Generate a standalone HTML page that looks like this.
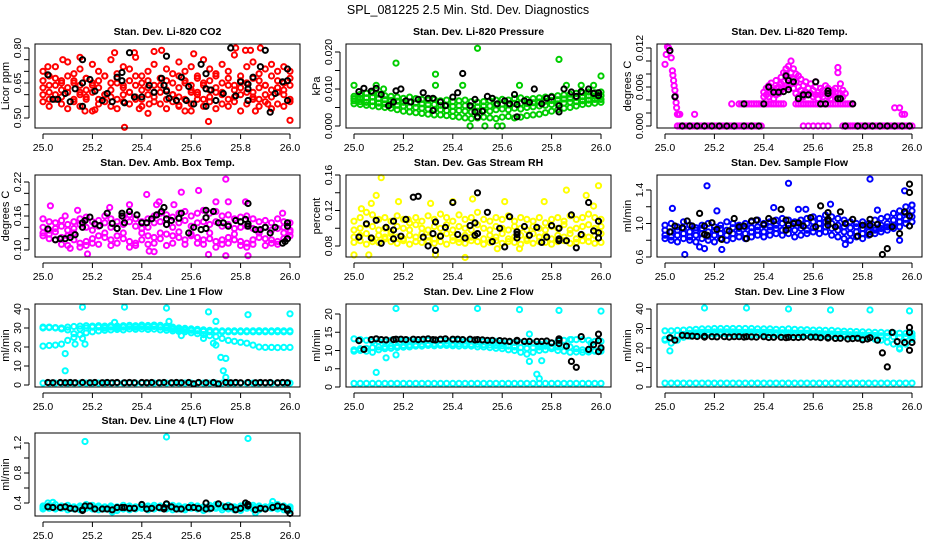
<!DOCTYPE html>
<html><head><meta charset="utf-8"><style>
html,body{margin:0;padding:0;background:#fff;}
svg{display:block;font-family:"Liberation Sans",Arial,sans-serif;}
</style></head><body>
<svg id="chart" width="936" height="540" viewBox="0 0 936 540" xmlns="http://www.w3.org/2000/svg">
<rect x="0" y="0" width="936" height="540" fill="#fff"/>
<text x="468" y="14" font-size="12.5" text-anchor="middle">SPL_081225  2.5 Min. Std. Dev. Diagnostics</text>
</svg>
<script>
const xGrid = [25.000,25.025,25.050,25.075,25.100,25.125,25.150,25.175,25.200,25.225,25.250,25.275,25.300,25.325,25.350,25.375,25.400,25.425,25.450,25.475,25.500,25.525,25.550,25.575,25.600,25.625,25.650,25.675,25.700,25.725,25.750,25.775,25.800,25.825,25.850,25.875,25.900,25.925,25.950,25.975,26.000];
const xTicks = [25.0,25.2,25.4,25.6,25.8,26.0];
const xTickLabels = ["25.0","25.2","25.4","25.6","25.8","26.0"];

// CO2
const co2A = [0.70,0.68,0.72,0.66,0.74,0.69,0.71,0.67,0.73,0.70,0.68,0.75,0.69,0.72,0.71,0.76,0.68,0.70,0.73,0.67,0.71,0.69,0.74,0.70,0.72,0.68,0.75,0.71,0.69,0.73,0.70,0.77,0.68,0.72,0.74,0.69,0.71,0.73,0.70,0.72,0.70];
const co2B = [0.63,0.61,0.64,0.62,0.63,0.65,0.61,0.62,0.64,0.63,0.60,0.62,0.65,0.63,0.61,0.64,0.62,0.63,0.61,0.64,0.62,0.60,0.63,0.65,0.62,0.61,0.64,0.62,0.63,0.61,0.64,0.62,0.63,0.65,0.61,0.63,0.64,0.62,0.63,0.62,0.64];
const co2C = [0.57,0.55,0.58,0.56,0.54,0.57,0.55,0.58,0.53,0.56,0.57,0.55,0.54,0.57,0.56,0.58,0.55,0.52,0.57,0.56,0.54,0.57,0.55,0.53,0.56,0.58,0.55,0.57,0.54,0.56,0.55,0.57,0.53,0.56,0.58,0.55,0.57,0.54,0.56,0.55,0.57];
const co2D = [0.66,0.64,0.67,0.65,0.68,0.66,0.64,0.67,0.65,0.66,0.68,0.65,0.67,0.64,0.66,0.68,0.65,0.66,0.64,0.67,0.66,0.65,0.68,0.66,0.64,0.67,0.65,0.66,0.68,0.65,0.67,0.64,0.66,0.65,0.67,0.66,0.64,0.68,0.66,0.65,0.67];
const co2E = [0.60,0.58,0.60,0.59,0.61,0.58,0.60,0.59,0.61,0.58,0.60,0.59,0.58,0.60,0.61,0.59,0.58,0.60,0.59,0.61,0.58,0.60,0.59,0.58,0.61,0.60,0.58,0.59,0.61,0.60,0.58,0.59,0.60,0.61,0.59,0.58,0.60,0.59,0.61,0.60,0.58];
const co2Out = [[25.17,0.53],[25.21,0.535],[25.33,0.46],[25.39,0.54],[25.43,0.56],[25.55,0.555],[25.6,0.53],[25.67,0.485],[25.86,0.53],[25.91,0.56],[26.0,0.49],[25.29,0.78],[25.37,0.78],[25.45,0.785],[25.48,0.79],[25.61,0.775],[25.78,0.80],[25.82,0.79],[25.84,0.79],[25.88,0.80],[25.15,0.76],[25.08,0.75],[25.02,0.72]];
const co2Black = [[25.02,0.685],[25.04,0.58],[25.06,0.58],[25.09,0.605],[25.11,0.57],[25.13,0.625],[25.16,0.65],[25.16,0.75],[25.16,0.55],[25.19,0.665],[25.21,0.615],[25.24,0.575],[25.26,0.605],[25.28,0.57],[25.30,0.675],[25.32,0.695],[25.32,0.66],[25.33,0.565],[25.35,0.78],[25.37,0.59],[25.40,0.59],[25.43,0.64],[25.45,0.61],[25.48,0.67],[25.49,0.64],[25.50,0.615],[25.50,0.765],[25.51,0.585],[25.54,0.575],[25.56,0.675],[25.58,0.575],[25.59,0.635],[25.61,0.56],[25.64,0.73],[25.66,0.55],[25.66,0.625],[25.66,0.69],[25.68,0.62],[25.70,0.575],[25.73,0.605],[25.76,0.80],[25.78,0.595],[25.80,0.655],[25.83,0.575],[25.83,0.625],[25.83,0.645],[25.85,0.675],[25.88,0.72],[25.90,0.79],[25.92,0.525],[25.94,0.605],[25.97,0.655],[25.99,0.71],[25.99,0.66],[25.99,0.575]];

// Pressure
const prA = [0.0080,0.0085,0.0088,0.0090,0.0086,0.0082,0.0080,0.0078,0.0075,0.0078,0.0074,0.0072,0.0070,0.0072,0.0068,0.0070,0.0066,0.0068,0.0070,0.0066,0.0064,0.0066,0.0068,0.0070,0.0072,0.0070,0.0074,0.0076,0.0072,0.0074,0.0076,0.0078,0.0080,0.0082,0.0084,0.0086,0.0088,0.0090,0.0092,0.0090,0.0092];
const prB = [0.0068,0.0066,0.0064,0.0066,0.0062,0.0060,0.0058,0.0056,0.0054,0.0052,0.0050,0.0048,0.0046,0.0045,0.0044,0.0042,0.0040,0.0042,0.0040,0.0038,0.0040,0.0042,0.0040,0.0044,0.0046,0.0044,0.0048,0.0046,0.0050,0.0052,0.0054,0.0056,0.0058,0.0060,0.0062,0.0064,0.0066,0.0068,0.0070,0.0072,0.0072];
const prC = [0.0060,0.0058,0.0056,0.0054,0.0052,0.0050,0.0048,0.0044,0.0040,0.0038,0.0036,0.0034,0.0032,0.0030,0.0030,0.0028,0.0026,0.0024,0.0022,0.0020,0.0022,0.0024,0.0022,0.0020,0.0024,0.0026,0.0022,0.0024,0.0028,0.0030,0.0032,0.0036,0.0040,0.0044,0.0048,0.0050,0.0054,0.0058,0.0060,0.0062,0.0064];
const prD = [0.0074,0.0075,0.0076,0.0078,0.0074,0.0071,0.0069,0.0067,0.0064,0.0065,0.0062,0.0060,0.0058,0.0058,0.0056,0.0056,0.0053,0.0055,0.0055,0.0052,0.0052,0.0054,0.0054,0.0057,0.0059,0.0057,0.0061,0.0061,0.0061,0.0063,0.0065,0.0067,0.0069,0.0071,0.0073,0.0075,0.0077,0.0079,0.0081,0.0081,0.0082];
const prOut = [[25.0,0.011],[25.09,0.011],[25.17,0.017],[25.33,0.014],[25.33,0.011],[25.44,0.011],[25.5,0.021],[25.47,0.0],[25.53,0.0],[25.58,0.0],[25.6,0.0],[25.67,0.011],[25.83,0.018],[25.86,0.011],[25.97,0.011],[26.0,0.0135],[25.12,0.010],[25.92,0.011]];
const prBlack = [[25.02,0.0093],[25.04,0.0102],[25.07,0.0094],[25.09,0.0102],[25.11,0.0085],[25.14,0.0055],[25.16,0.0065],[25.17,0.0095],[25.19,0.0100],[25.21,0.0068],[25.23,0.0065],[25.26,0.0072],[25.28,0.0090],[25.30,0.0075],[25.32,0.0075],[25.32,0.0042],[25.35,0.0065],[25.37,0.0055],[25.40,0.0078],[25.42,0.0090],[25.44,0.0142],[25.47,0.0055],[25.49,0.0072],[25.49,0.0038],[25.50,0.0025],[25.52,0.0040],[25.54,0.0080],[25.56,0.0075],[25.58,0.0060],[25.61,0.0068],[25.63,0.0060],[25.65,0.0085],[25.66,0.0058],[25.66,0.0025],[25.69,0.0068],[25.71,0.0064],[25.73,0.0100],[25.76,0.0060],[25.78,0.0075],[25.80,0.0078],[25.83,0.0055],[25.83,0.0038],[25.85,0.0100],[25.88,0.0092],[25.90,0.0080],[25.92,0.0093],[25.95,0.0100],[25.97,0.0088],[25.99,0.0090],[25.99,0.0082]];

// Li-820 Temp
const tpSpike = [[25.00,0.0095],[25.005,0.0110],[25.01,0.0122],[25.015,0.0120],[25.02,0.0116],[25.025,0.0105],[25.03,0.0085],[25.032,0.0078],[25.035,0.0070],[25.037,0.0062],[25.04,0.0055],[25.042,0.0046],[25.045,0.0036],[25.047,0.0028],[25.05,0.0018],[25.055,0.0018],[25.06,0.0018],[25.12,0.0018],[25.93,0.0028],[25.95,0.0028],[25.96,0.0018],[25.97,0.0018]];
const tpZeroX = [25.05,25.06,25.07,25.08,25.09,25.10,25.11,25.12,25.13,25.14,25.15,25.16,25.17,25.18,25.19,25.20,25.21,25.22,25.23,25.24,25.25,25.26,25.27,25.28,25.29,25.30,25.31,25.32,25.33,25.34,25.35,25.36,25.37,25.38,25.39,25.56,25.58,25.60,25.62,25.64,25.66,25.72,25.73,25.74,25.75,25.76,25.77,25.78,25.79,25.80,25.81,25.82,25.83,25.84,25.85,25.86,25.87,25.88,25.89,25.90,25.91,25.92,25.93,25.94,25.95,25.96,25.97,25.98,25.99,26.00];
const tpLevelX = [25.27,25.30,25.31,25.32,25.33,25.34,25.35,25.36,25.37,25.38,25.39,25.40,25.41,25.42,25.43,25.44,25.45,25.46,25.47,25.48,25.53,25.54,25.55,25.56,25.57,25.58,25.59,25.60,25.61,25.62,25.63,25.64,25.65,25.66,25.67,25.68,25.69,25.70,25.71,25.72,25.73,25.74,25.75,25.76];
const tpLevel = 0.0034;
const tpBlob = [[25.40,0.0045],[25.40,0.0052],[25.41,0.0048],[25.41,0.0058],[25.42,0.0062],[25.42,0.0045],[25.43,0.0050],[25.43,0.0066],[25.44,0.0055],[25.44,0.0042],[25.45,0.0058],[25.45,0.0070],[25.45,0.0048],[25.46,0.0060],[25.46,0.0050],[25.47,0.0065],[25.47,0.0075],[25.47,0.0055],[25.48,0.0068],[25.48,0.0082],[25.48,0.0058],[25.49,0.0080],[25.49,0.0088],[25.49,0.0062],[25.50,0.0092],[25.50,0.0074],[25.50,0.0060],[25.51,0.0100],[25.51,0.0082],[25.51,0.0065],[25.52,0.0088],[25.52,0.0072],[25.52,0.0058],[25.53,0.0080],[25.53,0.0068],[25.53,0.0050],[25.54,0.0077],[25.54,0.0060],[25.54,0.0045],[25.55,0.0072],[25.55,0.0055],[25.56,0.0062],[25.56,0.0050],[25.56,0.0045],[25.57,0.0068],[25.57,0.0052],[25.58,0.0058],[25.58,0.0048],[25.59,0.0065],[25.59,0.0050],[25.60,0.0055],[25.60,0.0045],[25.61,0.0060],[25.61,0.0048],[25.61,0.0068],[25.62,0.0052],[25.62,0.0042],[25.63,0.0058],[25.63,0.0048],[25.64,0.0055],[25.64,0.0045],[25.65,0.0062],[25.65,0.0050],[25.66,0.0058],[25.66,0.0045],[25.67,0.0052],[25.67,0.0042],[25.68,0.0055],[25.68,0.0048],[25.69,0.0058],[25.69,0.0045],[25.70,0.0082],[25.70,0.0090],[25.70,0.0050],[25.71,0.0065],[25.71,0.0050],[25.72,0.0055],[25.72,0.0045],[25.73,0.0050]];
const tpBlack = [[25.02,0.0116],[25.04,0.0045],[25.07,0],[25.10,0],[25.13,0],[25.16,0],[25.19,0],[25.22,0],[25.25,0],[25.28,0],[25.32,0],[25.32,0.0034],[25.35,0],[25.38,0],[25.40,0.0034],[25.42,0.0060],[25.44,0.0052],[25.46,0.0052],[25.48,0.0053],[25.49,0.0077],[25.50,0.0070],[25.50,0.0056],[25.52,0.0068],[25.54,0.0042],[25.56,0.0048],[25.58,0.0048],[25.61,0.0068],[25.63,0.0034],[25.65,0.0034],[25.66,0.0054],[25.66,0.0050],[25.70,0.0042],[25.71,0.0042],[25.73,0],[25.76,0.0034],[25.78,0],[25.81,0],[25.84,0],[25.87,0],[25.90,0],[25.93,0],[25.96,0],[25.99,0]];

// Amb Box Temp
const abA = [0.155,0.150,0.148,0.152,0.145,0.150,0.155,0.158,0.150,0.152,0.160,0.155,0.150,0.158,0.162,0.155,0.150,0.155,0.160,0.165,0.162,0.158,0.165,0.168,0.160,0.165,0.170,0.165,0.168,0.160,0.162,0.155,0.158,0.160,0.155,0.150,0.152,0.148,0.155,0.150,0.148];
const abB = [0.140,0.135,0.138,0.142,0.135,0.138,0.145,0.140,0.135,0.142,0.148,0.140,0.138,0.145,0.150,0.142,0.138,0.140,0.148,0.150,0.145,0.140,0.148,0.152,0.142,0.148,0.150,0.145,0.150,0.142,0.145,0.138,0.140,0.142,0.138,0.135,0.140,0.135,0.138,0.140,0.135];
const abC = [0.125,0.120,0.118,0.122,0.125,0.118,0.112,0.115,0.120,0.125,0.122,0.118,0.125,0.120,0.115,0.112,0.118,0.125,0.122,0.120,0.128,0.125,0.122,0.118,0.125,0.122,0.118,0.120,0.115,0.118,0.122,0.118,0.115,0.112,0.118,0.122,0.120,0.118,0.115,0.120,0.125];
const abD = [0.130,0.128,0.132,0.110,0.108,0.130,0.105,0.108,0.112,0.110,0.130,0.108,0.112,0.130,0.105,0.108,0.130,0.110,0.112,0.130,0.108,0.112,0.132,0.110,0.128,0.112,0.110,0.130,0.105,0.110,0.112,0.128,0.108,0.105,0.110,0.130,0.108,0.112,0.110,0.130,0.132];
const abOut = [[25.03,0.178],[25.09,0.16],[25.14,0.17],[25.18,0.093],[25.27,0.175],[25.35,0.18],[25.42,0.198],[25.43,0.098],[25.45,0.097],[25.47,0.185],[25.53,0.18],[25.56,0.202],[25.63,0.205],[25.67,0.092],[25.70,0.185],[25.74,0.225],[25.74,0.09],[25.75,0.185],[25.82,0.185],[25.83,0.09],[25.97,0.165],[25.46,0.18],[25.11,0.103]];
const abBlack = [[25.02,0.137],[25.05,0.118],[25.07,0.12],[25.09,0.12],[25.11,0.122],[25.13,0.127],[25.16,0.14],[25.16,0.148],[25.17,0.152],[25.19,0.158],[25.21,0.146],[25.23,0.143],[25.26,0.165],[25.28,0.147],[25.30,0.138],[25.32,0.16],[25.32,0.165],[25.33,0.148],[25.35,0.168],[25.38,0.162],[25.40,0.148],[25.42,0.148],[25.44,0.155],[25.46,0.162],[25.48,0.168],[25.49,0.175],[25.50,0.155],[25.50,0.145],[25.52,0.152],[25.55,0.156],[25.56,0.165],[25.59,0.13],[25.61,0.14],[25.64,0.136],[25.66,0.138],[25.66,0.157],[25.66,0.17],[25.69,0.168],[25.71,0.148],[25.73,0.148],[25.75,0.142],[25.78,0.152],[25.80,0.15],[25.82,0.154],[25.83,0.146],[25.83,0.142],[25.83,0.182],[25.86,0.136],[25.88,0.136],[25.90,0.14],[25.92,0.13],[25.94,0.14],[25.97,0.112],[25.98,0.115],[25.99,0.12],[25.99,0.142],[25.99,0.148]];

// Gas Stream RH
const rhA = [0.108,0.112,0.118,0.115,0.110,0.112,0.108,0.114,0.110,0.106,0.112,0.108,0.114,0.110,0.116,0.112,0.108,0.115,0.110,0.112,0.118,0.110,0.108,0.112,0.110,0.114,0.108,0.112,0.110,0.108,0.112,0.106,0.110,0.112,0.108,0.114,0.110,0.112,0.116,0.112,0.110];
const rhB = [0.098,0.100,0.104,0.102,0.098,0.100,0.096,0.102,0.100,0.098,0.104,0.100,0.098,0.102,0.100,0.104,0.098,0.102,0.100,0.098,0.104,0.100,0.098,0.102,0.100,0.098,0.102,0.100,0.098,0.102,0.100,0.098,0.102,0.100,0.104,0.098,0.100,0.102,0.104,0.100,0.102];
const rhC = [0.090,0.092,0.094,0.088,0.092,0.090,0.094,0.090,0.088,0.092,0.090,0.094,0.090,0.088,0.092,0.094,0.090,0.088,0.092,0.090,0.094,0.088,0.092,0.090,0.094,0.088,0.090,0.092,0.088,0.094,0.090,0.092,0.088,0.092,0.090,0.094,0.088,0.092,0.090,0.092,0.094];
const rhD = [0.084,0.086,0.082,0.085,0.084,0.088,0.085,0.083,0.086,0.082,0.085,0.084,0.086,0.083,0.085,0.082,0.086,0.084,0.083,0.086,0.085,0.082,0.084,0.086,0.083,0.085,0.084,0.082,0.086,0.083,0.085,0.084,0.082,0.085,0.086,0.083,0.084,0.086,0.085,0.083,0.084];
const rhOut = [[25.0,0.07],[25.06,0.07],[25.11,0.157],[25.09,0.137],[25.07,0.128],[25.18,0.13],[25.33,0.07],[25.40,0.13],[25.45,0.067],[25.48,0.133],[25.58,0.077],[25.61,0.13],[25.67,0.077],[25.77,0.13],[25.86,0.143],[25.94,0.137],[25.99,0.148],[25.97,0.125],[25.22,0.11],[25.03,0.122],[25.31,0.128]];
const rhBlack = [[25.02,0.09],[25.05,0.105],[25.07,0.089],[25.09,0.109],[25.11,0.083],[25.13,0.101],[25.16,0.108],[25.16,0.098],[25.16,0.088],[25.19,0.091],[25.21,0.11],[25.24,0.135],[25.26,0.136],[25.28,0.09],[25.30,0.08],[25.32,0.094],[25.33,0.075],[25.33,0.107],[25.35,0.091],[25.37,0.101],[25.40,0.129],[25.42,0.093],[25.45,0.089],[25.47,0.103],[25.49,0.106],[25.49,0.092],[25.50,0.094],[25.50,0.14],[25.54,0.118],[25.56,0.085],[25.59,0.1],[25.61,0.079],[25.63,0.113],[25.66,0.089],[25.66,0.093],[25.66,0.096],[25.69,0.102],[25.71,0.092],[25.74,0.101],[25.76,0.084],[25.78,0.09],[25.80,0.103],[25.83,0.1],[25.83,0.086],[25.83,0.088],[25.86,0.086],[25.88,0.115],[25.90,0.078],[25.92,0.093],[25.95,0.129],[25.97,0.097],[25.99,0.108],[25.99,0.095],[25.99,0.089]];

// Sample Flow
const sfA = [0.98,1.00,0.96,1.02,0.98,0.95,0.98,1.00,0.96,0.98,1.02,1.00,0.98,1.00,1.02,1.04,1.00,1.02,1.04,1.06,1.04,1.02,1.04,1.06,1.08,1.06,1.10,1.08,1.06,1.04,1.02,1.00,1.02,1.00,1.04,1.06,1.08,1.12,1.15,1.20,1.22];
const sfB = [0.92,0.90,0.92,0.94,0.90,0.92,0.94,0.90,0.92,0.94,0.92,0.95,0.94,0.96,0.95,0.96,0.98,0.96,0.98,1.00,0.98,1.00,0.98,1.00,1.02,1.00,1.02,1.00,0.98,0.96,0.95,0.96,0.94,0.96,0.95,0.98,1.00,1.04,1.08,1.12,1.15];
const sfC = [0.86,0.84,0.86,0.88,0.84,0.86,0.88,0.85,0.86,0.88,0.86,0.88,0.90,0.88,0.90,0.92,0.90,0.92,0.94,0.92,0.94,0.92,0.94,0.92,0.95,0.94,0.96,0.94,0.92,0.90,0.88,0.90,0.88,0.90,0.92,0.94,0.96,0.98,1.02,1.05,1.08];
const sfD = [0.82,0.80,0.78,0.82,0.80,0.78,0.82,0.80,0.78,0.82,0.80,0.82,0.84,0.82,0.84,0.86,0.84,0.86,0.88,0.86,0.88,0.84,0.86,0.88,0.90,0.88,0.90,0.86,0.84,0.82,0.80,0.84,0.82,0.86,0.88,0.90,0.92,0.94,0.96,1.00,1.02];
const sfOut = [[25.03,1.18],[25.08,0.63],[25.14,0.72],[25.17,1.45],[25.16,0.70],[25.21,1.15],[25.23,0.69],[25.44,1.19],[25.50,1.48],[25.54,1.17],[25.57,1.17],[25.67,1.23],[25.73,0.75],[25.83,1.53],[25.86,1.16],[25.95,0.8],[25.97,1.39],[26.0,1.22]];
const sfBlack = [[25.02,0.9],[25.04,0.97],[25.07,0.95],[25.09,1.03],[25.11,0.97],[25.14,1.12],[25.16,0.97],[25.16,0.87],[25.17,0.86],[25.19,1.01],[25.21,0.93],[25.23,0.81],[25.26,0.91],[25.28,1.06],[25.30,0.96],[25.32,0.97],[25.33,0.82],[25.35,1.03],[25.37,1.04],[25.40,0.99],[25.42,1.06],[25.44,1.03],[25.47,1.17],[25.49,1.04],[25.49,0.92],[25.50,0.98],[25.52,1.0],[25.54,1.01],[25.56,0.97],[25.59,1.07],[25.61,0.96],[25.63,1.21],[25.66,1.05],[25.66,1.03],[25.66,0.98],[25.66,1.13],[25.69,0.96],[25.71,1.14],[25.73,1.0],[25.76,1.05],[25.78,0.85],[25.80,0.98],[25.83,0.98],[25.83,0.87],[25.83,1.05],[25.86,0.99],[25.88,0.63],[25.90,0.7],[25.92,0.96],[25.95,0.88],[25.97,1.14],[25.99,1.47],[25.99,1.37],[25.99,0.97],[25.99,1.09]];

// Line 1 Flow
const l1A = [30.5,30.5,30.2,30.0,30.5,30.8,31.0,31.2,31.0,31.2,31.0,31.2,31.0,31.2,31.4,31.2,31.5,31.3,31.5,31.4,31.0,30.5,30.0,29.8,29.5,29.3,29.0,28.8,28.5,28.5,28.5,28.5,28.5,28.5,28.5,28.6,28.5,28.5,28.6,28.5,28.5];
const l1B = [20.5,20.8,21.0,21.5,23.5,25.0,26.5,27.5,28.0,28.5,28.8,29.0,29.2,29.0,29.5,29.3,29.5,29.2,29.4,29.0,28.8,28.5,28.2,28.0,27.5,27.0,26.5,26.0,25.5,24.5,23.5,23.0,22.5,22.0,21.0,20.0,19.8,19.8,19.7,19.8,19.8];
const l1C = [30.0,30.2,30.0,29.5,29.0,27.0,29.5,30.0,30.5,30.5,30.0,30.5,30.2,30.5,30.8,30.5,30.8,30.5,30.8,30.5,30.0,29.5,29.2,29.0,28.8,28.5,28.2,28.0,28.0,28.0,28.0,28.0,28.0,28.0,28.0,28.0,28.0,28.0,28.0,28.0,28.0];
const l1Base = [1.0,1.0,1.0,1.0,1.0,1.0,1.0,1.0,1.0,1.0,1.0,1.0,1.0,1.0,1.0,1.0,1.0,1.0,1.0,1.0,1.0,1.0,1.0,1.0,1.0,1.0,1.0,1.0,1.0,1.0,1.0,1.0,1.0,1.0,1.0,1.0,1.0,1.0,1.0,1.0,1.0];
const l1Out = [[25.09,7.5],[25.09,16.5],[25.13,21.5],[25.16,41],[25.16,24.5],[25.17,21.5],[25.29,33],[25.33,41],[25.50,40.5],[25.51,33.5],[25.67,38.5],[25.70,33.5],[25.70,21],[25.72,14.5],[25.74,14],[25.73,7.5],[25.74,4],[25.69,22],[25.83,37],[26.0,37.5],[25.56,26],[25.65,24.5]];
const l1BlackX = [25.02,25.04,25.07,25.09,25.11,25.13,25.16,25.19,25.21,25.24,25.26,25.28,25.30,25.33,25.35,25.37,25.40,25.42,25.44,25.47,25.49,25.52,25.54,25.56,25.59,25.61,25.63,25.66,25.69,25.71,25.74,25.76,25.78,25.80,25.83,25.86,25.88,25.90,25.92,25.95,25.97,25.99];
const l1BlackY = [1.3,1.2,1.3,1.2,1.3,1.2,1.3,1.2,1.3,1.2,1.3,1.2,1.3,1.2,1.3,1.2,1.3,1.2,1.3,1.2,1.3,1.2,1.3,1.2,1.3,0.6,1.3,1.2,1.3,0.6,1.3,1.2,1.3,1.2,1.3,1.2,1.3,1.2,1.3,1.2,1.3,1.2];

// Line 2 Flow
const l2A = [13.2,13.0,12.8,12.5,12.5,12.4,12.8,13.0,12.8,12.8,12.6,12.6,12.8,12.8,12.8,12.6,12.8,12.8,12.6,12.6,12.8,12.5,12.4,12.5,12.2,12.3,12.2,12.2,12.0,12.0,11.8,12.0,12.0,12.5,12.8,13.0,13.0,13.0,12.8,12.5,12.5];
const l2B = [10.2,10.5,10.6,10.8,11.0,11.0,11.2,11.2,11.4,11.5,11.6,11.7,11.8,11.8,11.8,11.9,11.8,11.8,11.8,11.7,11.7,11.6,11.5,11.4,11.3,11.2,11.0,10.8,10.6,10.8,11.0,11.2,11.0,11.0,11.2,11.0,10.5,10.2,10.0,10.0,10.2];
const l2C = [9.8,10.0,9.8,9.5,10.2,10.5,10.6,10.8,10.9,11.0,11.2,11.2,11.4,11.3,11.4,11.4,11.3,11.2,11.3,11.2,11.0,11.0,10.8,10.6,10.5,10.2,10.0,9.5,9.0,9.5,10.0,10.2,10.5,10.0,9.8,9.5,9.6,9.5,9.6,9.8,9.8];
const l2Base = [1.0,1.0,1.0,1.0,1.0,1.0,1.0,1.0,1.0,1.0,1.0,1.0,1.0,1.0,1.0,1.0,1.0,1.0,1.0,1.0,1.0,1.0,1.0,1.0,1.0,1.0,1.0,1.0,1.0,1.0,1.0,1.0,1.0,1.0,1.0,1.0,1.0,1.0,1.0,1.0,1.0];
const l2Out = [[25.09,4.0],[25.13,8.0],[25.17,8.8],[25.17,21.5],[25.33,21.5],[25.50,21.5],[25.67,21.2],[25.71,7.0],[25.76,7.2],[25.74,3.5],[25.75,2.3],[25.83,21.0],[26.0,20.8],[25.71,14.5],[25.88,13.0],[25.96,12.0]];
const l2Black = [[25.02,12.7],[25.04,10.3],[25.07,13.0],[25.09,13.2],[25.11,13.0],[25.13,12.9],[25.16,13.0],[25.17,13.1],[25.19,13.1],[25.21,13.0],[25.24,13.1],[25.26,13.0],[25.28,13.1],[25.30,13.2],[25.32,13.0],[25.33,12.9],[25.35,13.1],[25.37,13.2],[25.40,13.1],[25.42,13.1],[25.44,13.0],[25.47,13.1],[25.49,12.9],[25.50,13.0],[25.52,12.9],[25.54,12.8],[25.56,12.8],[25.59,12.7],[25.61,12.6],[25.63,12.5],[25.66,12.6],[25.66,12.8],[25.69,12.5],[25.71,12.5],[25.74,12.5],[25.76,12.5],[25.78,12.6],[25.80,12.1],[25.83,11.9],[25.83,12.8],[25.83,13.2],[25.86,11.2],[25.88,7.0],[25.90,5.4],[25.92,13.8],[25.95,10.3],[25.97,11.6],[25.99,9.7],[25.99,12.7],[25.99,14.5],[26.0,10.7]];

// Line 3 Flow
const l3A = [28.8,28.8,29.0,29.2,29.4,29.6,29.8,29.8,30.0,30.0,30.0,30.0,30.0,30.0,30.0,29.8,29.8,29.8,29.6,29.6,29.8,29.6,29.4,29.4,29.2,29.2,29.0,29.0,28.8,28.6,28.5,28.4,28.3,28.2,28.0,28.0,27.8,27.8,27.6,27.5,27.5];
const l3B = [24.5,25.0,26.5,27.0,27.5,27.8,28.0,28.0,28.2,28.2,28.2,28.2,28.0,28.0,28.2,28.0,28.0,28.0,27.8,27.8,27.8,27.6,27.6,27.5,27.4,27.4,27.2,27.2,27.0,27.0,26.8,26.8,26.6,26.5,26.4,26.2,26.0,25.8,25.5,25.8,26.0];
const l3C = [24.0,22.5,24.0,25.5,26.0,26.5,26.5,26.8,26.8,27.0,27.0,26.8,26.8,26.8,26.8,26.8,26.8,26.6,26.6,26.6,26.6,26.5,26.4,26.4,26.2,26.2,26.0,26.0,26.0,25.8,25.6,25.5,25.2,25.0,24.5,24.0,23.0,22.0,20.0,22.0,24.5];
const l3Base = [2.0,2.0,2.0,2.0,2.0,2.0,2.0,2.0,2.0,2.0,2.0,2.0,2.0,2.0,2.0,2.0,2.0,2.0,2.0,2.0,2.0,2.0,2.0,2.0,2.0,2.0,2.0,2.0,2.0,2.0,2.0,2.0,2.0,2.0,2.0,2.0,2.0,2.0,2.0,2.0,2.0];
const l3Out = [[25.02,18.5],[25.16,40.5],[25.33,40.5],[25.50,40],[25.67,39.5],[25.83,39.5],[25.99,39],[25.95,19.5]];
const l3Black = [[25.02,25.3],[25.04,24],[25.07,26.5],[25.09,26.3],[25.11,26.1],[25.13,25.9],[25.16,26.0],[25.16,25.6],[25.19,25.8],[25.21,25.7],[25.24,25.8],[25.26,25.6],[25.28,25.8],[25.30,25.8],[25.32,25.6],[25.33,25.8],[25.35,25.7],[25.37,25.6],[25.40,25.8],[25.42,25.4],[25.44,25.5],[25.47,25.5],[25.49,25.3],[25.50,25.5],[25.52,25.4],[25.54,25.4],[25.56,25.6],[25.59,25.6],[25.61,25.6],[25.63,25.3],[25.66,25.4],[25.66,25.1],[25.69,24.9],[25.71,25.0],[25.74,24.6],[25.76,24.8],[25.78,25.0],[25.80,24.2],[25.82,24.6],[25.83,25.3],[25.86,24.0],[25.88,17.5],[25.90,10.3],[25.92,28.0],[25.94,23.3],[25.97,22.8],[25.99,18.8],[25.99,30.5],[25.99,28.0],[26.0,22.8]];

// Line 4 (LT) Flow
const l4A = [0.36,0.37,0.38,0.36,0.37,0.35,0.36,0.38,0.37,0.36,0.35,0.36,0.35,0.37,0.36,0.35,0.38,0.36,0.37,0.36,0.38,0.37,0.36,0.35,0.37,0.36,0.35,0.37,0.38,0.36,0.37,0.35,0.36,0.38,0.37,0.36,0.35,0.37,0.38,0.36,0.35];
const l4B = [0.32,0.33,0.32,0.33,0.31,0.32,0.31,0.33,0.32,0.31,0.32,0.31,0.30,0.32,0.31,0.32,0.33,0.31,0.32,0.33,0.32,0.31,0.32,0.31,0.33,0.32,0.30,0.32,0.33,0.31,0.32,0.31,0.30,0.33,0.32,0.31,0.32,0.33,0.32,0.31,0.30];
const l4C = [0.34,0.35,0.34,0.34,0.34,0.33,0.34,0.35,0.34,0.34,0.33,0.34,0.33,0.34,0.34,0.33,0.35,0.34,0.34,0.35,0.34,0.34,0.34,0.33,0.35,0.34,0.33,0.34,0.35,0.34,0.34,0.33,0.34,0.35,0.34,0.34,0.33,0.35,0.34,0.34,0.33];
const l4Out = [[25.17,1.22],[25.5,1.28],[25.83,1.26],[25.93,0.42],[25.02,0.40],[25.28,0.28],[25.86,0.27],[25.04,0.41]];
const l4Black = [[25.02,0.35],[25.04,0.34],[25.07,0.34],[25.09,0.35],[25.11,0.33],[25.13,0.32],[25.16,0.31],[25.16,0.30],[25.17,0.36],[25.19,0.36],[25.21,0.32],[25.24,0.32],[25.26,0.32],[25.28,0.31],[25.30,0.34],[25.32,0.34],[25.33,0.34],[25.35,0.33],[25.37,0.33],[25.40,0.38],[25.42,0.32],[25.44,0.33],[25.47,0.34],[25.49,0.34],[25.49,0.32],[25.50,0.39],[25.52,0.35],[25.54,0.32],[25.56,0.32],[25.59,0.34],[25.61,0.34],[25.63,0.33],[25.66,0.32],[25.66,0.40],[25.68,0.33],[25.71,0.39],[25.74,0.35],[25.76,0.35],[25.78,0.31],[25.80,0.33],[25.82,0.40],[25.83,0.36],[25.83,0.38],[25.86,0.31],[25.88,0.33],[25.90,0.32],[25.93,0.34],[25.95,0.36],[25.97,0.35],[25.99,0.32],[25.99,0.30],[26.0,0.26]];

const NS = "http://www.w3.org/2000/svg";
const svg = document.getElementById("chart");
const cols = [{l:35,r:300,x0:43,x1:290},{l:346,r:611,x0:354,x1:601},{l:657,r:922,x0:665,x1:912}];
const rows = [{t:44,b:128},{t:175,b:257},{t:304,b:387},{t:433,b:516}];

function el(tag, attrs, parent){
  const e = document.createElementNS(NS, tag);
  for (const k in attrs) e.setAttribute(k, attrs[k]);
  (parent||svg).appendChild(e);
  return e;
}

function makePanel(p){
  const c = cols[p.col], r = rows[p.row];
  const g = el("g", {});
  
  
  const xs = v => c.x0 + (v - 25) * (c.x1 - c.x0);
  const ys = v => p.y1 + (v - p.v1) * (p.y2 - p.y1) / (p.v2 - p.v1);
  const t = el("text", {x:(c.l+c.r)/2, y:r.t-9, "font-size":10.5, "font-weight":"bold", "text-anchor":"middle"}, g);
  t.textContent = p.title;
  
  
  const marks = el("g", {fill:"none", "stroke-width":2}, g);
  function dot(x, y, color){
    const ci = el("circle", {cx:xs(x).toFixed(1), cy:ys(y).toFixed(1), r:2.6, stroke:color}, marks);
    
    
  }
  p.clouds.forEach(arr => arr.forEach((v,i) => { if (v !== null) dot(xGrid[i], v, p.color); }));
  (p.pairs||[]).forEach(pr => dot(pr[0], pr[1], p.color));
  (p.black||[]).forEach(pr => dot(pr[0], pr[1], "#000"));
  const box = el("rect", {x:c.l, y:r.t, width:c.r-c.l, height:r.b-r.t, fill:"none", stroke:"#000", "stroke-width":1}, g);
  
  
  const xa = el("g", {}, g);
  
  
  el("line", {x1:xs(xTicks[0]), x2:xs(xTicks[xTicks.length-1]), y1:r.b+6, y2:r.b+6, stroke:"#000"}, xa);
  xTicks.forEach((v,i) => {
    el("line", {x1:xs(v), x2:xs(v), y1:r.b+6, y2:r.b+11, stroke:"#000"}, xa);
    const tl = el("text", {x:xs(v), y:r.b+23, "font-size":10.5, "text-anchor":"middle"}, xa);
    tl.textContent = xTickLabels[i];
    
    
  });
  const ya = el("g", {}, g);
  
  
  el("line", {x1:c.l-6, x2:c.l-6, y1:ys(p.ticks[0]), y2:ys(p.ticks[p.ticks.length-1]), stroke:"#000"}, ya);
  p.ticks.forEach(v => {
    el("line", {x1:c.l-11, x2:c.l-6, y1:ys(v), y2:ys(v), stroke:"#000"}, ya);
  });
  p.labels.forEach((lab,i) => {
    const yv = ys(p.labelVals[i]);
    const tl = el("text", {x:0, y:0, "font-size":10.5, "text-anchor":"middle", transform:`translate(${c.l-14},${yv}) rotate(-90)`}, ya);
    tl.textContent = lab;
    
    
  });
  const yl = el("text", {x:0, y:0, "font-size":11, "text-anchor":"middle", transform:`translate(${c.l-26},${(r.t+r.b)/2}) rotate(-90)`}, ya);
  yl.textContent = p.ylab;
  
  
}

makePanel({name:"co2", col:0, row:0, title:"Stan. Dev. Li-820 CO2", ylab:"Licor ppm", color:"#ff0000",
  v1:0.80, y1:48, v2:0.50, y2:118, ticks:[0.50,0.55,0.60,0.65,0.70,0.75,0.80], labels:["0.50","0.65","0.80"], labelVals:[0.50,0.65,0.80],
  clouds:[co2A,co2B,co2C,co2D,co2E], pairs:co2Out, black:co2Black});
makePanel({name:"pressure", col:1, row:0, title:"Stan. Dev. Li-820 Pressure", ylab:"kPa", color:"#00cd00",
  v1:0.020, y1:52, v2:0, y2:126, ticks:[0,0.005,0.010,0.015,0.020], labels:["0.000","0.010","0.020"], labelVals:[0,0.010,0.020],
  clouds:[prA,prB,prC,prD], pairs:prOut, black:prBlack});
const tpPairs = tpSpike.concat(tpZeroX.map(x => [x, 0]), tpLevelX.map(x => [x, tpLevel]), tpBlob);
makePanel({name:"li820-temp", col:2, row:0, title:"Stan. Dev. Li-820 Temp.", ylab:"degrees C", color:"#ff00ff",
  v1:0.012, y1:48, v2:0, y2:126, ticks:[0,0.002,0.004,0.006,0.008,0.010,0.012], labels:["0.000","0.006","0.012"], labelVals:[0,0.006,0.012],
  clouds:[], pairs:tpPairs, black:tpBlack});
makePanel({name:"amb-box-temp", col:0, row:1, title:"Stan. Dev. Amb. Box Temp.", ylab:"degrees C", color:"#ff00ff",
  v1:0.22, y1:182, v2:0.10, y2:250, ticks:[0.10,0.12,0.14,0.16,0.18,0.20,0.22], labels:["0.10","0.16","0.22"], labelVals:[0.10,0.16,0.22],
  clouds:[abA,abB,abC,abD], pairs:abOut, black:abBlack});
makePanel({name:"gas-stream-rh", col:1, row:1, title:"Stan. Dev. Gas Stream RH", ylab:"percent", color:"#ffff00",
  v1:0.16, y1:175, v2:0.08, y2:246, ticks:[0.08,0.10,0.12,0.14,0.16], labels:["0.08","0.12","0.16"], labelVals:[0.08,0.12,0.16],
  clouds:[rhA,rhB,rhC,rhD], pairs:rhOut, black:rhBlack});
makePanel({name:"sample-flow", col:2, row:1, title:"Stan. Dev. Sample Flow", ylab:"ml/min", color:"#0000ff",
  v1:1.4, y1:190, v2:0.6, y2:257, ticks:[0.6,0.8,1.0,1.2,1.4], labels:["0.6","1.0","1.4"], labelVals:[0.6,1.0,1.4],
  clouds:[sfA,sfB,sfC,sfD], pairs:sfOut, black:sfBlack});
makePanel({name:"line1-flow", col:0, row:2, title:"Stan. Dev. Line 1 Flow", ylab:"ml/min", color:"#00ffff",
  v1:40, y1:309, v2:0, y2:385, ticks:[0,10,20,30,40], labels:["0","10","20","30","40"], labelVals:[0,10,20,30,40],
  clouds:[l1A,l1B,l1C,l1Base], pairs:l1Out, black:l1BlackX.map((x,i) => [x, l1BlackY[i]])});
makePanel({name:"line2-flow", col:1, row:2, title:"Stan. Dev. Line 2 Flow", ylab:"ml/min", color:"#00ffff",
  v1:20, y1:314, v2:0, y2:387, ticks:[0,5,10,15,20], labels:["0","5","10","15","20"], labelVals:[0,5,10,15,20],
  clouds:[l2A,l2B,l2C,l2Base], pairs:l2Out, black:l2Black});
makePanel({name:"line3-flow", col:2, row:2, title:"Stan. Dev. Line 3 Flow", ylab:"ml/min", color:"#00ffff",
  v1:40, y1:309, v2:0, y2:387, ticks:[0,10,20,30,40], labels:["0","10","20","30","40"], labelVals:[0,10,20,30,40],
  clouds:[l3A,l3B,l3C,l3Base], pairs:l3Out, black:l3Black});
makePanel({name:"line4-lt-flow", col:0, row:3, title:"Stan. Dev. Line 4 (LT) Flow", ylab:"ml/min", color:"#00ffff",
  v1:1.2, y1:443, v2:0.4, y2:503, ticks:[0.4,0.6,0.8,1.0,1.2], labels:["0.4","0.8","1.2"], labelVals:[0.4,0.8,1.2],
  clouds:[l4A,l4B,l4C], pairs:l4Out, black:l4Black});
</script>
</body></html>
